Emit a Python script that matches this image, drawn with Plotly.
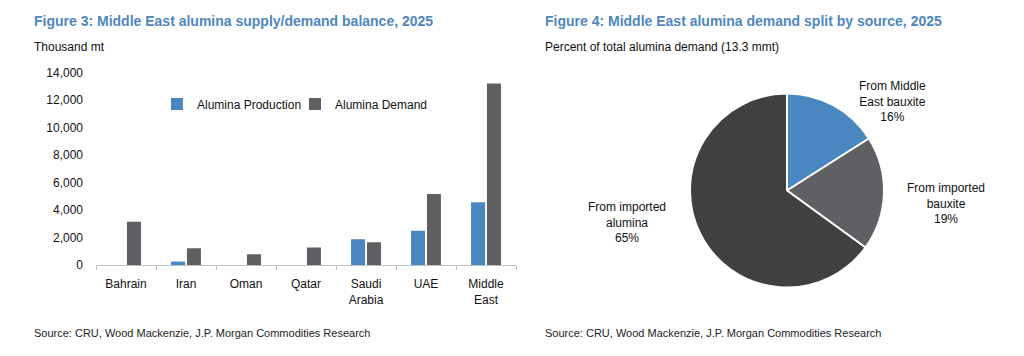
import plotly.graph_objects as go

# ---- data ----
countries = ["Bahrain", "Iran", "Oman", "Qatar", "Saudi<br>Arabia", "UAE", "Middle<br>East"]
production = [0, 250, 0, 0, 1880, 2490, 4560]
demand = [3150, 1210, 780, 1280, 1650, 5170, 13200]
y_ticks = [0, 2000, 4000, 6000, 8000, 10000, 12000, 14000]

pie_labels = ["From Middle<br>East bauxite", "From imported<br>bauxite", "From imported<br>alumina"]
pie_values = [16, 19, 65]

BLUE = "#4A86BF"
DGRAY = "#5E5F62"
PIE_COLORS = ["#4A86BF", "#5F6064", "#404040"]
TITLE_BLUE = "#4F87BD"
FONT = "Liberation Sans, Arial, sans-serif"

W, H = 1024, 356
def fx(px): return px / W
def fy(py): return 1 - py / H

fig = go.Figure()
fig.add_trace(go.Bar(x=countries, y=production, name="Alumina Production",
                     marker=dict(color=BLUE, line=dict(width=0))))
fig.add_trace(go.Bar(x=countries, y=demand, name="Alumina Demand",
                     marker=dict(color=DGRAY, line=dict(width=0))))

fig.add_trace(go.Pie(values=pie_values, labels=pie_labels, sort=False, direction="clockwise",
                     rotation=0, textinfo="none", hoverinfo="label+percent",
                     marker=dict(colors=PIE_COLORS, line=dict(color="white", width=2)),
                     domain=dict(x=[fx(690), fx(884)], y=[fy(288), fy(93)]),
                     showlegend=False))

annotations = []
for x0, title, sub in [(32, "Figure 3: Middle East alumina supply/demand balance, 2025", "Thousand mt"),
                       (543, "Figure 4: Middle East alumina demand split by source, 2025",
                        "Percent of total alumina demand (13.3 mmt)")]:
    annotations.append(dict(x=fx(x0), y=fy(21), xref="paper", yref="paper", xanchor="left", yanchor="middle",
                            text="<b>" + title + "</b>", showarrow=False,
                            font=dict(family=FONT, size=14, color=TITLE_BLUE)))
    annotations.append(dict(x=fx(x0), y=fy(47), xref="paper", yref="paper", xanchor="left", yanchor="middle",
                            text=sub, showarrow=False, font=dict(family=FONT, size=12, color="#111111")))
    annotations.append(dict(x=fx(x0), y=fy(333), xref="paper", yref="paper", xanchor="left", yanchor="middle",
                            text="Source: CRU, Wood Mackenzie, J.P. Morgan Commodities Research", showarrow=False,
                            font=dict(family=FONT, size=11, color="#222222")))

label_pos = [(892, 101), (946, 203), (627, 222)]
for (lx, ly), lab, v in zip(label_pos, pie_labels, pie_values):
    annotations.append(dict(x=fx(lx), y=fy(ly), xref="paper", yref="paper", xanchor="center", yanchor="middle",
                            text=f"{lab}<br>{v}%", showarrow=False, align="center",
                            font=dict(family=FONT, size=12, color="#111111")))

fig.update_layout(
    width=W, height=H,
    margin=dict(l=0, r=0, t=0, b=0, pad=0, autoexpand=False),
    paper_bgcolor="white", plot_bgcolor="white",
    font=dict(family=FONT, size=12, color="#111111"),
    barmode="group", bargap=0.47, bargroupgap=0.12,
    xaxis=dict(domain=[fx(96), fx(516)], showline=True, linecolor="#BFBFBF", linewidth=1,
               ticks="outside", tickson="boundaries", ticklen=4, tickcolor="#BFBFBF", automargin=False,
               ticklabelstandoff=8, showgrid=False, tickfont=dict(size=12, color="#111111")),
    yaxis=dict(domain=[fy(265), fy(72.5)], range=[0, 14000], tickvals=y_ticks, tickformat=",",
               showgrid=False, zeroline=False, showline=False, ticks="", ticklabelstandoff=12, automargin=False,
               tickfont=dict(size=12, color="#111111")),
    legend=dict(orientation="h", x=fx(157), y=fy(104), xanchor="left", yanchor="middle",
                bgcolor="rgba(0,0,0,0)", font=dict(size=12, color="#111111"),
                itemwidth=30, tracegroupgap=0, entrywidthmode="pixels", entrywidth=93),
    annotations=annotations,
)

fig.write_html("out.html", config={"displayModeBar": False},
               post_script="document.body.style.margin='0';document.body.style.overflow='hidden';")
